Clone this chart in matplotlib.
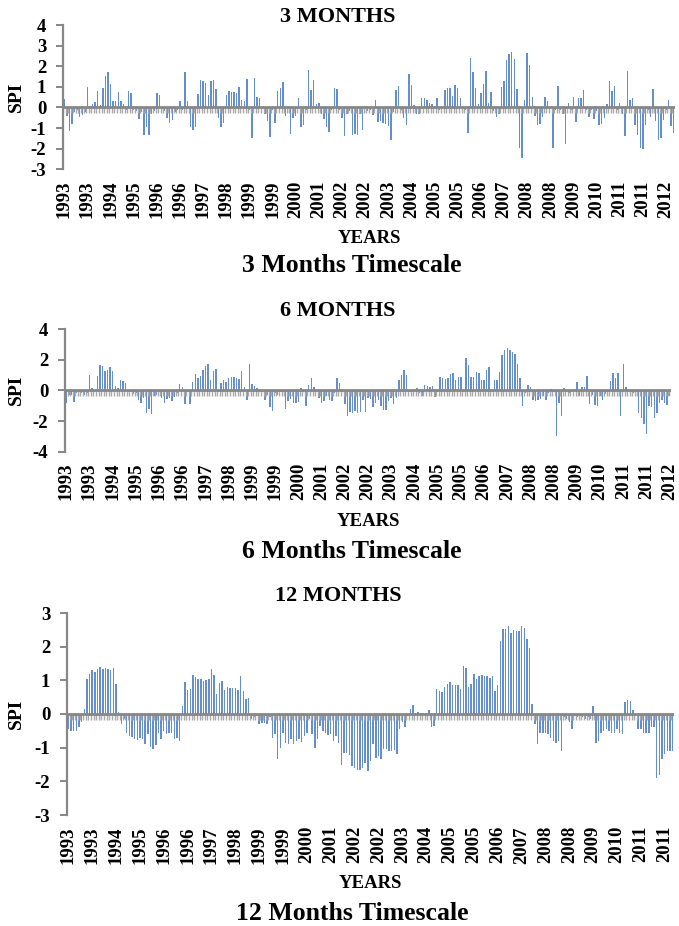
import matplotlib
matplotlib.use("Agg")
import matplotlib.pyplot as plt
import numpy as np

plt.rcParams["font.family"] = ["Liberation Serif", "DejaVu Serif"]
plt.rcParams["font.weight"] = "bold"
plt.rcParams["axes.unicode_minus"] = False

# monthly SPI values, Jan 1993 onwards
spi_3 = [
    0.4, -0.4, -1.15, -0.8, -0.2, -0.1, -0.45, -0.35, -0.2, 1.0,
    0.05, 0.15, 0.25, 0.8, 0.1, 0.95, 1.55, 1.7, 1.15, 0.3,
    0.3, 0.75, 0.3, 0.15, -0.1, 0.8, 0.68, -0.1, -0.15, -0.55,
    -0.2, -1.35, -0.95, -1.35, -0.3, -0.15, 0.7, 0.6, -0.05, -0.15,
    -0.5, -0.75, -0.6, -0.2, -0.1, 0.3, -0.1, 1.7, 0.3, -0.95,
    -1.1, -0.95, 0.65, 1.35, 1.3, 1.2, 0.6, 1.3, 1.35, 0.9,
    -0.5, -0.95, -0.75, 0.6, 0.8, 0.75, 0.75, 0.7, 1.0, 0.35,
    0.3, 1.4, -0.1, -1.5, 1.45, 0.5,
    0.45, -0.05, -0.3, -0.65, -1.45, -0.1, -0.75, 0.8, 0.95, 1.25,
    -0.4, -0.05, -1.3, -0.5, -0.4, 0.45, -0.95, -0.85, -0.1, 1.8,
    0.85, 1.35, 0.15, 0.2, -0.3, -0.55, -0.95, -1.2, -0.1, 0.95,
    0.9, -0.1, -0.5, -1.4, -0.3, -0.15, -1.35, -1.3, -1.35, -0.3,
    -1.1, 0.05, -0.15, -0.1, -0.35, 0.35, -0.7, -0.65, -0.75, -0.8,
    -0.9, -1.6, -0.2, 0.85, 1.05, -0.1, -0.5, -0.85, 1.6, 1.1,
    0.1, -0.3, -0.3, 0.45, 0.45, 0.35, 0.2, 0.15, 0.05, 0.45,
    -0.1, -0.05, 0.85, 0.95, 0.95, 0.55, 1.1, 0.95, 0.45, -0.05,
    -0.1, -1.25,
    2.4, 1.7, 0.95, 0.15, 0.7, 1.15, 1.75, 0.2, 0.75, -0.15,
    -0.45, -0.3, 1.0, 1.3, 2.3, 2.6, 2.7, 2.35, 0.9, -1.95,
    -2.45, 0.35, 2.65, 2.05, 0.5, -0.4, -0.85, -0.8, -0.45, 0.5,
    0.3, -0.05, -1.95, -0.1, 1.05, -0.1, -0.3, -1.75, 0.2, -0.1,
    0.5, -0.7, 0.45, 0.45, 0.85, -0.1, -0.45, -0.1, -0.55, -0.15,
    -0.85, -0.8, -0.5, 0.15, 1.3, 0.8, 1.05, -0.1, 0.2, -0.3,
    -1.4, 1.75, 0.35, 0.45, -0.85, -1.35, -1.95, -2.0, -0.85, -0.1,
    -0.45, 0.9, -0.65, -1.6, -1.5, -0.6, -0.1, 0.35, -0.9, -1.25,
]

spi_6 = [
    -0.8, -0.3, -0.3, -0.75, -0.2, -0.1, -0.2, -0.3, -0.2, 1.0,
    0.15, -0.1, 0.95, 1.65, 1.6, 1.25, 1.3, 1.5, 1.25, 0.3,
    0.15, 0.65, 0.6, 0.45, -0.1, -0.1, -0.25, -0.15, -0.6, -0.8,
    -0.5, -1.45, -1.2, -1.55, -0.4, -0.3, -0.1, -0.5, -0.8, -0.55,
    -0.5, -0.7, -0.45, -0.2, 0.4, 0.25, -0.9, -0.1, -0.9, 0.55,
    1.05, 0.8, 0.95, 1.3, 1.6, 1.7, 0.7, 1.25, 1.4, -0.1,
    0.5, 0.7, 0.55, 0.8, 0.85, 0.9, 0.8, 0.75, 1.25, 0.2,
    -0.6, 1.7, 0.4, 0.3, 0.15, -0.1, -0.1, -0.6, -0.3, -1.1,
    -1.35, -0.2, -0.3, -0.1, -0.1, -1.2, -0.7, -0.55, -0.8, -0.8,
    -0.75, 0.15, -0.1, -1.0, 0.35, 0.8, 0.25, -0.1, -0.5, -0.8,
    -0.7, -0.4, -0.6, -0.7, -0.2, 0.8, 0.45, -0.1, -0.9, -1.7,
    -1.4, -1.45, -1.35, -1.5, -1.4, -0.6, -1.4,
    -0.5, -0.55, -1.1, -0.85, -0.6, -1.0, -1.3, -1.3, -0.7, -0.5,
    -0.9, -0.5, 0.65, 1.0, 1.35, 1.0, -0.1, -0.05, 0.1, 0.15,
    -0.2, -0.35, 0.35, 0.3, 0.2, 0.3, -0.45, -0.1, 0.9, 0.8,
    0.75, 0.8, 1.05, 1.15, 0.65, 0.9, 0.9, -0.1, 2.1, 1.65,
    0.85, 0.85, 1.2, 1.1, 0.65, 0.65, 1.3, 1.5, -0.1, 0.65,
    0.7, 1.2, 2.3, 2.6, 2.75, 2.65, 2.5, 2.4, 1.75, 0.8,
    -1.0, -0.2, 0.35, 0.2, -0.6, -0.7, -0.65, -0.55, -0.35, -0.65,
    -0.2, 0.1, -0.1, -3.0, -0.8, -1.65, 0.15, -0.1, -0.15, -0.1,
    0.1, 0.55, -0.35, 0.25, 0.25, 0.95, -0.9, -0.3, -0.95, -1.0,
    -0.35, -0.6, -0.25, -0.1, 0.6, 1.15, 0.8, 1.15, -1.65, 1.75,
    0.25, 0.1, -0.1, -0.15, -0.1, -1.5, -1.8, -2.2, -2.85, -1.0,
    -1.1, -1.8, -1.5, -0.85, -0.6, -0.8, -0.95, -0.4,
]

spi_12 = [
    -0.45, -0.5, -0.5, -0.5, -0.4, -0.25, 0.15, 1.05, 1.2, 1.3,
    1.25, 1.35, 1.4, 1.35, 1.38, 1.33, 1.32, 1.38, 0.88, 0.05,
    -0.3, -0.15, -0.55, -0.65, -0.68, -0.75, -0.78, -0.7, -0.75, -0.9,
    -0.6, -0.98, -1.05, -0.92, -0.55, -0.75, -0.5, -0.58, -0.57, -0.57,
    -0.75, -0.72, -0.8, 0.25, 0.95, 0.7, 0.75, 1.15, 1.1, 1.05,
    1.05, 0.98, 1.02, 1.05, 1.35, 1.15, 0.6, 0.93, 0.97, 0.72,
    0.8, 0.78, 0.78, 0.78, 0.72, 1.12, 0.68, 0.45, 0.48, -0.15,
    -0.1, -0.05, -0.3, -0.28, -0.27, -0.3, -0.1, -0.7, -0.6, -1.35,
    -1.0, -0.55, -0.85, -0.9, -0.75, -0.88, -0.8, -0.75, -0.82, -0.65,
    -0.55, -0.15, -0.6, -1.0, -0.75, -0.35, -0.5, -0.55, -0.62, -0.6,
    -0.8, -0.65, -0.85, -1.5, -1.15, -1.15, -1.22, -1.55, -1.6, -1.65,
    -1.65, -1.6, -1.45, -1.7, -1.4,
    -0.9, -1.3, -1.25, -1.35, -1.05, -1.05, -1.1, -1.1, -1.07, -1.2,
    -0.45, -0.25, -0.4, -0.05, 0.15, 0.27, 0.03, 0.06, 0.03, 0.03,
    0.03, 0.12, -0.4, -0.35, 0.75, 0.68, 0.66, 0.8, 0.9, 0.95,
    0.87, 0.87, 0.86, 0.73, 1.42, 1.37, 0.8, 0.88, 1.2, 1.03,
    1.12, 1.16, 1.12, 1.12, 1.08, 1.13, 0.68, 0.86, 2.18, 2.52,
    2.52, 2.6, 2.4, 2.5, 2.46, 2.46, 2.6, 2.55, 2.22, 1.95,
    0.3, -0.3, -0.9, -0.55, -0.55, -0.55, -0.6, -0.7, -0.8, -0.85,
    -0.8, -1.1, -0.1, -0.15, -0.25, -0.45, -0.05, -0.1, -0.05, -0.1,
    -0.15, -0.1, -0.15, 0.25, -0.85, -0.8, -0.55, -0.5, -0.45, -0.5,
    -0.55, -0.55, -0.45, -0.55, -0.6, 0.35, 0.42, 0.4, 0.12, -0.05,
    -0.45, -0.45, -0.55, -0.55, -0.57, -0.4, -0.4, -1.9, -1.8, -1.35,
    -1.2, -1.1, -1.1, -1.1,
]

# category labels, one every 9th month
year_labels = [
    "1993", "1993", "1994", "1995", "1996", "1996", "1997", "1998", "1999",
    "1999", "2000", "2001", "2002", "2002", "2003", "2004", "2005", "2005",
    "2006", "2007", "2008", "2008", "2009", "2010", "2011", "2011", "2012",
]
label_step = 9

panels = [
    # values, n labels, ylim, yticks, title, caption, rect(px: left, top, right, bottom), text rows
    (spi_3, 27, (-3, 4), np.arange(-3, 5, 1), "3 MONTHS", "3 Months Timescale",
     (63, 25, 675, 169.3), 17, 238, 266),
    (spi_6, 27, (-4, 4), np.arange(-4, 5, 2), "6 MONTHS", "6 Months Timescale",
     (65, 329, 671, 451.7), 311, 521, 551),
    (spi_12, 26, (-3, 3), np.arange(-3, 4, 1), "12 MONTHS", "12 Months Timescale",
     (67, 613, 674, 815), 596, 884, 914),
]

W, H = 679, 926
GRAY = "#878787"
BAR = "#648ecc"

fig = plt.figure(figsize=(W / 100, H / 100), dpi=100)

for vals, nlab, ylim, yticks, title, caption, (l, t, r, b), ty, yy, cy in panels:
    ax = fig.add_axes([l / W, 1 - b / H, (r - l) / W, (b - t) / H])
    n = len(vals)
    x = np.arange(n)
    ax.bar(x, vals, width=0.55, color=BAR, linewidth=0)
    ax.set_xlim(-0.5, n - 0.5)
    ax.set_ylim(*ylim)

    # zero line with one tick per category, as in the spreadsheet axis
    ax.axhline(0, color=GRAY, lw=2.0, zorder=3)
    tick_len = (ylim[1] - ylim[0]) * 5.5 / (b - t)
    ax.vlines(np.arange(n + 1) - 0.5, -tick_len, 0, colors="#a9a9a9", lw=1.0, zorder=2)

    for side in ("top", "right", "bottom"):
        ax.spines[side].set_visible(False)
    ax.spines["left"].set_color(GRAY)
    ax.spines["left"].set_linewidth(1.6)
    ax.set_yticks(yticks)
    ax.tick_params(axis="y", colors="black", color=GRAY, length=5, width=1.4,
                   labelsize=13.5, pad=7)
    for lab in ax.get_yticklabels():
        lab.set_fontweight("bold")

    ax.set_xticks(x[::label_step][:nlab])
    ax.set_xticklabels(year_labels[:nlab], rotation=90, fontsize=13.5, fontweight="bold")
    ax.tick_params(axis="x", length=0, pad=8)

    ax.set_ylabel("SPI", fontsize=14, fontweight="bold")
    ax.yaxis.set_label_coords(-(l - 25) / (r - l), 0.5)

    fig.text(338 / W, 1 - ty / H, title, ha="center", va="center", fontsize=16, fontweight="bold")
    fig.text((l + r) / 2 / W, 1 - yy / H, "YEARS", ha="center", va="center", fontsize=13.5,
             fontweight="bold")
    fig.text(352 / W, 1 - cy / H, caption, ha="center", va="center", fontsize=18.5,
             fontweight="bold")

fig.savefig("out.png", dpi=100)
